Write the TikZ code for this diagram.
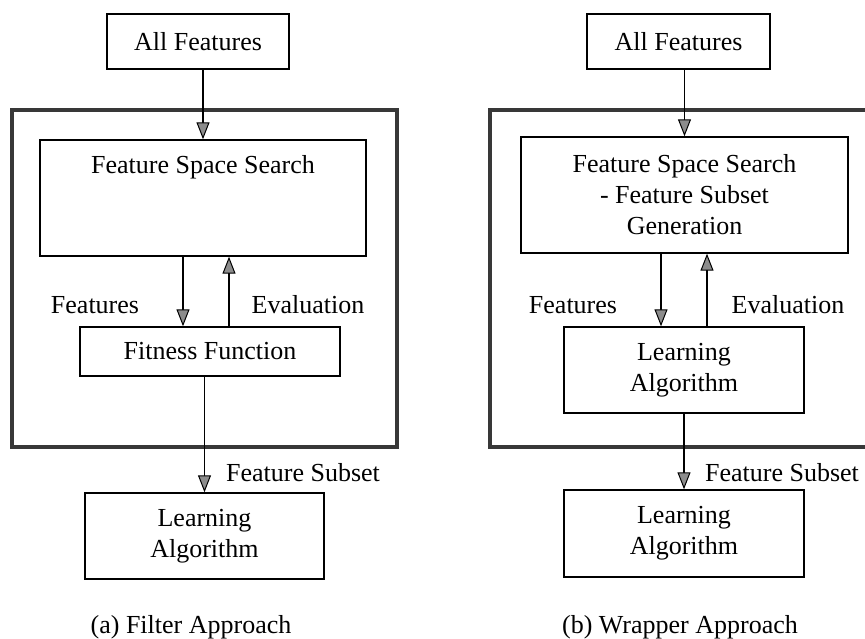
\documentclass[tikz,border=0pt]{standalone}
\usepackage{fontspec}
\setmainfont{Liberation Serif}
\usetikzlibrary{arrows.meta,calc}
\begin{document}
\begin{tikzpicture}[x=1pt,y=-1pt,
  font=\fontsize{26}{31}\selectfont,
  box/.style={draw=black, line width=1.4pt, inner sep=0pt, align=center},
  frame/.style={draw=black!78, line width=3.2pt},
  arr/.style={draw=black, line width=1.4pt,
    -{Triangle[length=17pt,width=13pt,fill=black!45,line width=1pt]}},
  lbl/.style={inner sep=0pt}]
\useasboundingbox (0,0) rectangle (865,639);
\clip (0,0) rectangle (865,639);

% ---------------- (a) filter approach ----------------
\draw[frame] (12,110) rectangle (397,447);
\node[box, minimum width=182pt, minimum height=55pt] (allA) at (198,41.5) {All Features};
\node[box, minimum width=326pt, minimum height=116pt] (fssA) at (203,198) {};
\node[lbl] (fssAt) at (203,167) {Feature Space Search};
\node[box, minimum width=260pt, minimum height=49pt] (fitA) at (210,351.5) {Fitness Function};
\node[box, minimum width=239pt, minimum height=86pt] (learnA) at (204.5,536) {Learning\\Algorithm};

\draw[arr] (fssA.north |- allA.south) -- (fssA.north);
\draw[arr] ([xshift=-20pt]fssA.south) -- ([xshift=-20pt]fssA.south |- fitA.north);
\draw[arr] ([xshift=26pt]fssA.south |- fitA.north) -- ([xshift=26pt]fssA.south);
\draw[arr] (learnA.north |- fitA.south) -- (learnA.north);

\node[lbl] (featA) at (95,305) {Features};
\node[lbl] (evalA) at (308,305) {Evaluation};
\node[lbl] (subA) at (303,473) {Feature Subset};
\node[lbl] (capA) at (191,627) {(a) Filter Approach};

% ---------------- (b) wrapper approach ----------------
\draw[frame] (490,110) rectangle (885,447);
\node[box, minimum width=183pt, minimum height=55pt] (allB) at (678.5,41.5) {All Features};
\node[box, minimum width=327pt, minimum height=116pt] (fssB) at (684.5,195)
  {Feature Space Search\\- Feature Subset\\Generation};
\node[box, minimum width=240pt, minimum height=86pt] (learnB1) at (684,370) {Learning\\Algorithm};
\node[box, minimum width=240pt, minimum height=87pt] (learnB2) at (684,533.5) {Learning\\Algorithm};

\draw[arr] (fssB.north |- allB.south) -- (fssB.north);
\draw[arr] ([xshift=-23.5pt]fssB.south) -- ([xshift=-23.5pt]fssB.south |- learnB1.north);
\draw[arr] ([xshift=22.5pt]fssB.south |- learnB1.north) -- ([xshift=22.5pt]fssB.south);
\draw[arr] (learnB1.south) -- (learnB2.north);

\node[lbl] (featB) at (573,305) {Features};
\node[lbl] (evalB) at (788,305) {Evaluation};
\node[lbl] (subB) at (782,473) {Feature Subset};
\node[lbl] (capB) at (680,627) {(b) Wrapper Approach};
\end{tikzpicture}
\end{document}
